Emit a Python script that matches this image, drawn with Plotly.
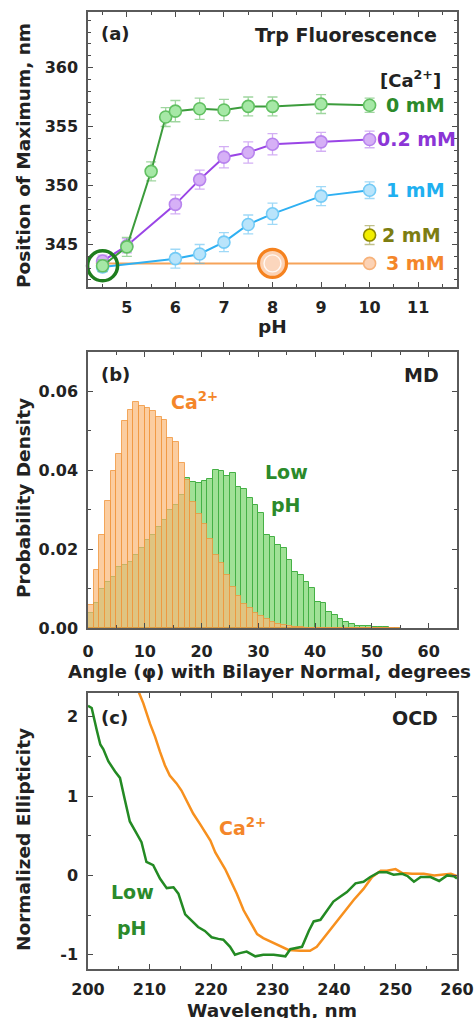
import plotly.graph_objects as go

FONT = "DejaVu Sans"
INK = "#222222"

# ---------------- (a) Trp fluorescence: emission maximum vs pH ----------------
ph_0mM = [4.5, 5.0, 5.5, 5.8, 6.0, 6.5, 7.0, 7.5, 8.0, 9.0, 10.0]
lam_0mM = [343.2, 344.8, 351.2, 355.8, 356.3, 356.5, 356.4, 356.7, 356.7, 356.9, 356.8]
err_0mM = [0.5, 0.8, 0.8, 0.8, 0.9, 0.9, 0.9, 0.8, 0.8, 0.8, 0.6]

ph_02mM = [4.5, 5.0, 6.0, 6.5, 7.0, 7.5, 8.0, 9.0, 10.0]
lam_02mM = [343.6, 344.9, 348.4, 350.5, 352.4, 352.8, 353.5, 353.7, 353.9]
err_02mM = [0.5, 0.6, 0.8, 0.8, 0.9, 0.9, 0.9, 0.8, 0.7]

ph_1mM = [4.5, 6.0, 6.5, 7.0, 7.5, 8.0, 9.0, 10.0]
lam_1mM = [343.1, 343.8, 344.2, 345.2, 346.7, 347.6, 349.1, 349.6]
err_1mM = [0.4, 0.8, 0.8, 0.8, 0.8, 0.9, 0.8, 0.7]

ph_2mM = [10.0]
lam_2mM = [345.8]
err_2mM = [0.8]

ph_3mM = [4.5, 8.0, 10.0]
lam_3mM = [343.4, 343.4, 343.4]

# highlighted conditions (low pH, and 3 mM Ca2+ at pH 8)
ring_lowph = (4.5, 343.2)
ring_ca = (8.0, 343.4)

# ---------------- (b) MD: tilt angle distributions ----------------
angle_bin_left = list(range(0, 55))
dens_ca = [0.0059, 0.0146, 0.0237, 0.0321, 0.0397, 0.0442, 0.0524, 0.0554, 0.0573, 0.0564,
           0.0558, 0.0550, 0.0535, 0.0527, 0.0482, 0.0471, 0.0419, 0.0375, 0.0320, 0.0290,
           0.0265, 0.0225, 0.0185, 0.0165, 0.0135, 0.0105, 0.0080, 0.0062, 0.0050, 0.0038,
           0.0030, 0.0022, 0.0015, 0.0010, 0.0007, 0.0005, 0.0003, 0.0002, 0.0001, 0.0001,
           0.0, 0.0, 0.0, 0.0, 0.0, 0.0, 0.0, 0.0, 0.0, 0.0,
           0.0, 0.0, 0.0, 0.0, 0.0]
dens_lowph = [0.0037, 0.0063, 0.0100, 0.0117, 0.0130, 0.0155, 0.0160, 0.0168, 0.0185, 0.0202,
              0.0223, 0.0236, 0.0257, 0.0274, 0.0299, 0.0312, 0.0337, 0.0380, 0.0370, 0.0368,
              0.0372, 0.0378, 0.0400, 0.0398, 0.0386, 0.0392, 0.0358, 0.0352, 0.0329, 0.0312,
              0.0291, 0.0236, 0.0232, 0.0210, 0.0202, 0.0172, 0.0143, 0.0134, 0.0117, 0.0101,
              0.0067, 0.0063, 0.0041, 0.0033, 0.0022, 0.0014, 0.0009, 0.0006, 0.0005, 0.0004,
              0.0003, 0.0002, 0.0002, 0.0001, 0.0001]

# ---------------- (c) OCD spectra ----------------
wl_lowph = [200.0, 200.6, 201.4, 202.0, 202.5, 203.3, 204.4, 205.2, 206.0, 206.8,
            207.6, 208.7, 209.5, 210.6, 211.7, 212.8, 213.9, 214.7, 215.8, 216.9,
            217.9, 219.0, 220.1, 221.2, 222.0, 223.1, 223.9, 224.7, 225.8, 227.2,
            228.5, 230.2, 232.1, 232.9, 234.8, 235.9, 236.7, 237.8, 238.9, 239.9,
            241.0, 242.1, 243.5, 244.8, 245.9, 247.3, 248.6, 249.7, 251.1, 252.0,
            253.0, 254.1, 255.7, 257.1, 258.4, 259.5, 260.0]
ell_lowph = [2.14, 2.11, 1.84, 1.65, 1.59, 1.44, 1.31, 1.23, 0.95, 0.68,
             0.57, 0.42, 0.17, 0.13, -0.04, -0.16, -0.15, -0.23, -0.49, -0.58,
             -0.65, -0.70, -0.78, -0.80, -0.81, -0.90, -1.00, -0.98, -0.96, -1.02,
             -1.00, -1.00, -1.02, -0.93, -0.90, -0.70, -0.58, -0.56, -0.44, -0.33,
             -0.27, -0.21, -0.10, -0.08, -0.02, 0.04, 0.04, 0.01, 0.02, -0.01,
             -0.08, -0.02, -0.02, -0.07, 0.00, -0.01, -0.04]

wl_ca = [208.0, 209.0, 210.1, 210.9, 211.7, 212.5, 213.3, 214.4, 215.2, 216.3,
         217.1, 218.2, 219.0, 219.9, 220.7, 221.5, 222.3, 223.1, 224.2, 225.3,
         226.4, 227.5, 228.5, 229.6, 230.7, 231.8, 232.6, 234.5, 236.1, 237.2,
         238.3, 239.9, 241.6, 243.2, 244.8, 246.2, 247.6, 248.6, 250.0, 251.1,
         252.7, 254.6, 256.3, 257.9, 259.0, 260.0]
ell_ca = [2.36, 2.17, 1.91, 1.75, 1.56, 1.39, 1.26, 1.16, 1.07, 0.90,
          0.78, 0.65, 0.55, 0.44, 0.29, 0.18, 0.08, -0.05, -0.23, -0.44,
          -0.60, -0.74, -0.79, -0.83, -0.88, -0.92, -0.94, -0.95, -0.95, -0.90,
          -0.79, -0.63, -0.46, -0.31, -0.17, -0.02, 0.06, 0.06, 0.08, 0.03,
          0.02, 0.02, 0.00, 0.01, 0.02, -0.01]

# colours
GREEN, GREEN_FILL, GREEN_EDGE, GREEN_TXT = "#3c9c3c", "#a6e8a6", "#62c062", "#2b8a2b"
PURPLE, PURPLE_FILL, PURPLE_EDGE, PURPLE_TXT = "#9a45e6", "#d6b0f6", "#b884ee", "#8b35d6"
BLUE, BLUE_FILL, BLUE_EDGE, BLUE_TXT = "#2fb0f2", "#b9e4fb", "#74cbf6", "#1fb0f0"
ORANGE, ORANGE_FILL, ORANGE_EDGE, ORANGE_TXT = "#f6a35a", "#fcd2b4", "#f7b27a", "#f4862a"
OLIVE_TXT = "#7d7d12"

fig = go.Figure()


def series(ph, lam, err, line_c, fill_c, edge_c, err_c):
    eb = None
    if err is not None:
        eb = dict(type="data", array=err, color=err_c, thickness=1.3, width=5)
    fig.add_trace(go.Scatter(
        x=ph, y=lam, mode="lines+markers", error_y=eb,
        line=dict(color=line_c, width=2),
        marker=dict(size=12, color=fill_c, line=dict(color=edge_c, width=1.6)),
        xaxis="x", yaxis="y", showlegend=False, cliponaxis=False))


series(ph_3mM, lam_3mM, None, ORANGE, ORANGE_FILL, ORANGE_EDGE, None)
series(ph_1mM, lam_1mM, err_1mM, BLUE, BLUE_FILL, BLUE_EDGE, "rgba(80,185,240,0.55)")
series(ph_02mM, lam_02mM, err_02mM, PURPLE, PURPLE_FILL, PURPLE_EDGE, "rgba(175,110,235,0.55)")
series(ph_0mM, lam_0mM, err_0mM, GREEN, GREEN_FILL, GREEN_EDGE, "rgba(80,180,80,0.55)")

# 2 mM point
fig.add_trace(go.Scatter(
    x=ph_2mM, y=lam_2mM, mode="markers",
    error_y=dict(type="data", array=err_2mM, color="rgba(150,150,60,0.6)", thickness=1.3, width=5),
    marker=dict(size=12, color="#f2ee00", line=dict(color="#8f8a00", width=1.6)),
    xaxis="x", yaxis="y", showlegend=False))

# highlight rings
fig.add_trace(go.Scatter(
    x=[ring_ca[0]], y=[ring_ca[1]], mode="markers",
    marker=dict(size=28, color=ORANGE_FILL, line=dict(color="#f5821f", width=3.2)),
    xaxis="x", yaxis="y", showlegend=False))
fig.add_trace(go.Scatter(
    x=[ring_ca[0]], y=[ring_ca[1]], mode="markers",
    marker=dict(size=17, color="#fbd6bd", line=dict(color="rgba(255,255,255,0.85)", width=1.4)),
    xaxis="x", yaxis="y", showlegend=False))
fig.add_trace(go.Scatter(
    x=[ring_lowph[0]], y=[ring_lowph[1]], mode="markers",
    marker=dict(size=30, color="rgba(0,0,0,0)", line=dict(color="#1e7d1e", width=3.5)),
    xaxis="x", yaxis="y", showlegend=False, cliponaxis=False))

# ---------------- (b) histograms ----------------
bin_centres = [a + 0.5 for a in angle_bin_left]
fig.add_trace(go.Bar(
    x=bin_centres, y=dens_lowph, width=1,
    marker=dict(color="#a0e196", line=dict(color="#45b045", width=1)),
    xaxis="x2", yaxis="y2", showlegend=False))
fig.add_trace(go.Bar(
    x=bin_centres, y=dens_ca, width=1,
    marker=dict(color="rgba(250,184,119,0.7)", line=dict(color="rgba(240,150,60,0.8)", width=1)),
    xaxis="x2", yaxis="y2", showlegend=False))

# ---------------- (c) OCD ----------------
fig.add_trace(go.Scatter(x=wl_ca, y=ell_ca, mode="lines",
                         line=dict(color="#f7901e", width=2.5),
                         xaxis="x3", yaxis="y3", showlegend=False))
fig.add_trace(go.Scatter(x=wl_lowph, y=ell_lowph, mode="lines",
                         line=dict(color="#238a23", width=2.5),
                         xaxis="x3", yaxis="y3", showlegend=False))

# ---------------- axes ----------------
XDOM = [88 / 475, 457 / 475]


def axis(**kw):
    base = dict(showline=True, linecolor="#5a5a5a", linewidth=1.5, mirror="allticks",
                ticks="inside", ticklen=5, tickwidth=1.2, tickcolor="#4a4a4a",
                showgrid=False, zeroline=False, automargin=False,
                tickfont=dict(family=FONT, size=16, color=INK, weight="bold"))
    base.update(kw)
    return base


def minor(d):
    return dict(ticks="inside", ticklen=3, tickwidth=1, tickcolor="#4a4a4a", dtick=d, showgrid=False)


fig.update_layout(
    width=475, height=1018,
    margin=dict(l=0, r=0, t=0, b=0, autoexpand=False),
    paper_bgcolor="white", plot_bgcolor="white",
    barmode="overlay", bargap=0,
    font=dict(family=FONT, color=INK),
    xaxis=axis(domain=XDOM, anchor="y", range=[4.2, 11.8], dtick=1, tick0=0,
               minor=minor(0.5), ticklabelstandoff=5),
    yaxis=axis(domain=[1 - 287 / 1018, 1 - 12 / 1018], anchor="x", range=[341.4, 364.7],
               dtick=5, tick0=0, minor=minor(1), ticklabelstandoff=5),
    xaxis2=axis(domain=XDOM, anchor="y2", range=[0, 65], dtick=10, tick0=0,
                minor=minor(5), ticklabelstandoff=8),
    yaxis2=axis(domain=[1 - 628 / 1018, 1 - 352 / 1018], anchor="x2", range=[0, 0.070],
                dtick=0.02, tick0=0, tickformat=".2f", minor=minor(0.01), ticklabelstandoff=5),
    xaxis3=axis(domain=XDOM, anchor="y3", range=[200, 260], dtick=10, tick0=0,
                minor=minor(5), ticklabelstandoff=5),
    yaxis3=axis(domain=[1 - 969 / 1018, 1 - 693 / 1018], anchor="x3", range=[-1.18, 2.30],
                tickmode="array", tickvals=[-1, 0, 1, 2], ticktext=["-1", "0", "1", "2"],
                minor=minor(0.5), ticklabelstandoff=5),
)

ann = []


def text(s, x, y, size=19, color=INK, xref="paper", yref="paper", xanchor="center",
         yanchor="middle", angle=0, xshift=0):
    ann.append(dict(text="<b>" + s + "</b>", x=x, y=y, xref=xref, yref=yref,
                    xanchor=xanchor, yanchor=yanchor, textangle=angle, xshift=xshift,
                    showarrow=False, font=dict(family=FONT, size=size, color=color)))


# axis titles
text("Position of Maximum, nm", 23 / 475, 1 - 156 / 1018, size=18.5, angle=-90)
text("pH", 272 / 475, 1 - 327 / 1018, size=18.5)
text("Probability Density", 23 / 475, 1 - 498 / 1018, size=18.5, angle=-90)
text("Angle (\u03c6) with Bilayer Normal, degrees", 269 / 475, 1 - 671 / 1018, size=18.3)
text("Normalized Ellipticity", 23 / 475, 1 - 840 / 1018, size=18.5, angle=-90)
text("Wavelength, nm", 272 / 475, 1 - 1010 / 1018, size=18.5)

# panel (a) texts
text("(a)", 0.03, 0.92, size=18, xref="x domain", yref="y domain", xanchor="left")
text("Trp Fluorescence", 0.95, 0.917, size=19, xref="x domain", yref="y domain", xanchor="right")
text("[Ca<sup>2+</sup>]", 0.962, 0.757, size=18, xref="x domain", yref="y domain", xanchor="right")
text("0 mM", 10, lam_0mM[-1], color=GREEN_TXT, xref="x", yref="y", xanchor="left", xshift=14)
text("0.2 mM", 10, lam_02mM[-1], color=PURPLE_TXT, xref="x", yref="y", xanchor="left", xshift=5)
text("1 mM", 10, lam_1mM[-1], color=BLUE_TXT, xref="x", yref="y", xanchor="left", xshift=14)
text("2 mM", 10, lam_2mM[-1], color=OLIVE_TXT, xref="x", yref="y", xanchor="left", xshift=10)
text("3 mM", 10, lam_3mM[-1], color=ORANGE_TXT, xref="x", yref="y", xanchor="left", xshift=14)

# panel (b) texts
text("(b)", 0.03, 0.917, size=18, xref="x2 domain", yref="y2 domain", xanchor="left")
text("MD", 0.957, 0.917, size=19, xref="x2 domain", yref="y2 domain", xanchor="right")
text("Ca<sup>2+</sup>", 14.3, 0.0577, color=ORANGE_TXT, xref="x2", yref="y2", xanchor="left")
text("Low", 34.9, 0.0395, color=GREEN_TXT, xref="x2", yref="y2")
text("pH", 34.9, 0.0312, color=GREEN_TXT, xref="x2", yref="y2")

# panel (c) texts
text("(c)", 0.03, 0.91, size=18, xref="x3 domain", yref="y3 domain", xanchor="left")
text("OCD", 0.955, 0.91, size=19, xref="x3 domain", yref="y3 domain", xanchor="right")
text("Ca<sup>2+</sup>", 225.2, 0.61, color=ORANGE_TXT, xref="x3", yref="y3")
text("Low", 207.2, -0.21, color=GREEN_TXT, xref="x3", yref="y3")
text("pH", 207.2, -0.66, color=GREEN_TXT, xref="x3", yref="y3")

fig.update_layout(annotations=ann)

fig.write_html("out.html")
